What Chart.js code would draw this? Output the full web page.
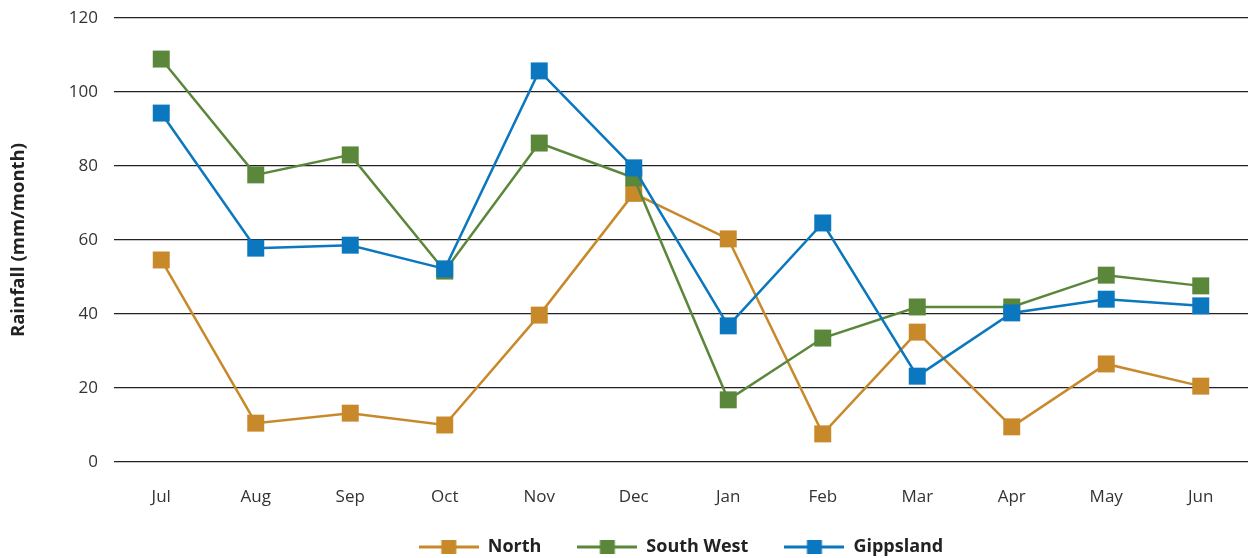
<!DOCTYPE html>
<html>
<head>
<meta charset="utf-8">
<script src="https://cdn.jsdelivr.net/npm/chart.js@4/dist/chart.umd.min.js"></script>
<style>
    html, body { margin: 0; padding: 0; background: #fff; }
    #wrap { width: 1252px; height: 558px; position: relative; }
</style>
</head>
<body>
<div id="wrap"><canvas id="rainChart"></canvas></div>
<script>
// Monthly rainfall data
const months = ['Jul', 'Aug', 'Sep', 'Oct', 'Nov', 'Dec', 'Jan', 'Feb', 'Mar', 'Apr', 'May', 'Jun'];
const northValues = [54.6, 10.5, 13.2, 10.0, 39.7, 72.6, 60.3, 7.6, 35.1, 9.5, 26.5, 20.5];
const southWestValues = [108.9, 77.6, 83.0, 51.6, 86.2, 76.8, 16.8, 33.5, 41.9, 41.9, 50.5, 47.6];
const gippslandValues = [94.3, 57.8, 58.6, 52.2, 105.7, 79.5, 36.8, 64.6, 23.2, 40.3, 44.0, 42.2];

const colors = {
    north: '#C8892B',
    southWest: '#5B873B',
    gippsland: '#0B77BE'
};

// Legend icon: line with a square in the middle
function makeLegendIcon(color) {
    const c = document.createElement('canvas');
    c.width = 60;
    c.height = 16;
    const g = c.getContext('2d');
    g.fillStyle = color;
    g.fillRect(0, 6.5, 60, 3);
    g.fillRect(22.5, 1, 15, 14);
    return c;
}

const legendIcons = [
    makeLegendIcon(colors.north),
    makeLegendIcon(colors.southWest),
    makeLegendIcon(colors.gippsland)
];

function lineDataset(label, data, color, order) {
    return {
        label: label,
        data: data,
        borderColor: color,
        backgroundColor: color,
        borderWidth: 2.5,
        pointStyle: 'rect',
        pointRadius: 12,
        pointHoverRadius: 12,
        pointBorderWidth: 0,
        pointBackgroundColor: color,
        tension: 0,
        fill: false,
        order: order
    };
}

// Center the legend under the plot area and nudge it up a little
const centerLegendPlugin = {
    id: 'centerLegend',
    afterLayout(chart) {
        const legend = chart.legend;
        const area = chart.chartArea;
        const shift = (area.left + area.right) / 2 - (legend.left + legend.right) / 2;
        legend.left += shift;
        legend.right += shift;
        legend.top -= 6;
    }
};

const ctx = document.getElementById('rainChart').getContext('2d');

new Chart(ctx, {
    type: 'line',
    data: {
        labels: months,
        datasets: [
            lineDataset('North', northValues, colors.north, 3),
            lineDataset('South West', southWestValues, colors.southWest, 2),
            lineDataset('Gippsland', gippslandValues, colors.gippsland, 1)
        ]
    },
    plugins: [centerLegendPlugin],
    options: {
        responsive: true,
        maintainAspectRatio: false,
        animation: false,
        layout: {
            autoPadding: false,
            padding: { top: 18, right: 4, left: 0, bottom: 0 }
        },
        plugins: {
            legend: {
                position: 'bottom',
                maxHeight: 50,
                labels: {
                    usePointStyle: true,
                    pointStyleWidth: 60,
                    padding: 36,
                    color: '#222',
                    font: { family: 'Open Sans', size: 18, weight: 'bold' },
                    sort: (a, b) => a.datasetIndex - b.datasetIndex,
                    generateLabels: function (chart) {
                        const items = Chart.defaults.plugins.legend.labels.generateLabels(chart);
                        return items.map(item => Object.assign(item, { pointStyle: legendIcons[item.datasetIndex] }));
                    }
                }
            },
            tooltip: { enabled: false }
        },
        scales: {
            x: {
                offset: true,
                grid: { display: false, drawTicks: false },
                border: { display: false },
                ticks: {
                    color: '#333',
                    padding: 25,
                    font: { family: 'Open Sans', size: 17 }
                },
                afterFit: function (scale) {
                    scale.height = 46;
                    scale.paddingLeft = 0;
                    scale.paddingRight = 0;
                }
            },
            y: {
                min: 0,
                max: 120,
                grid: {
                    color: '#222',
                    lineWidth: 1.2,
                    drawTicks: false
                },
                border: { display: false },
                ticks: {
                    stepSize: 20,
                    color: '#333',
                    padding: 16,
                    font: { family: 'Open Sans', size: 17 }
                },
                title: {
                    display: true,
                    text: 'Rainfall (mm/month)',
                    color: '#222',
                    padding: 8,
                    font: { family: 'Open Sans', size: 18.5, weight: 'bold' }
                },
                afterFit: function (scale) {
                    scale.width = 114;
                    scale.paddingTop = 0;
                    scale.paddingBottom = 0;
                }
            }
        }
    }
});
</script>
</body>
</html>
